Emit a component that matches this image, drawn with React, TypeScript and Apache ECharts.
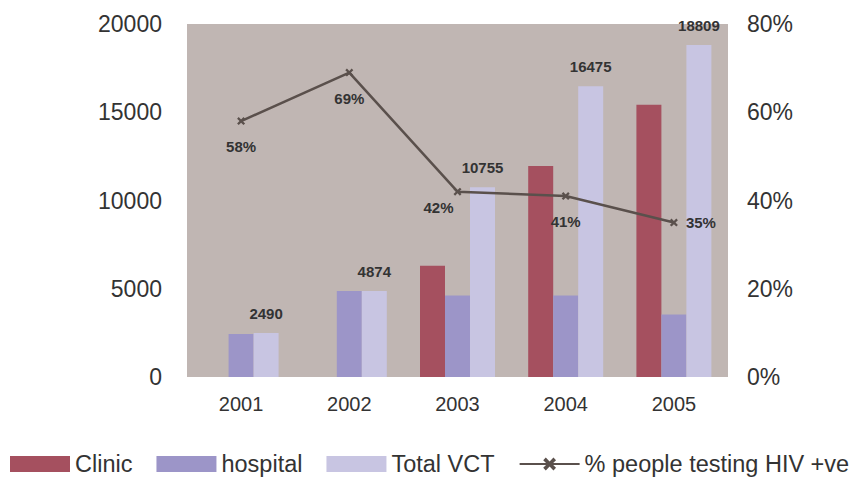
import React, { useEffect, useRef } from "react";
import * as echarts from "echarts";

const years = ["2001", "2002", "2003", "2004", "2005"];
const clinic = [0, 0, 6300, 11950, 15430];
const hospital = [2440, 4874, 4620, 4620, 3540];
const totalVCT = [2490, 4874, 10755, 16475, 18809];
const percentPositive = [58, 69, 42, 41, 35];
const lineLabelPos: any[] = ["bottom", "bottom", [-30, 12], "bottom", "right"];

const FONT = "Liberation Sans, Arial, sans-serif";

export default function App() {
  const ref = useRef<HTMLDivElement>(null);
  useEffect(() => {
    if (!ref.current) return;
    const chart = echarts.init(ref.current, undefined, { renderer: "svg" });
    const lblStyle = { fontFamily: FONT, fontWeight: "bold" as const, fontSize: 15, color: "#333" };
    chart.setOption({
      animation: false,
      textStyle: { fontFamily: FONT },
      grid: {
        left: 187,
        right: 130,
        top: 24,
        bottom: 101,
        show: true,
        backgroundColor: "#c0b6b3",
        borderWidth: 0,
      },
      legend: {
        top: 452,
        left: 10,
        width: 848,
        padding: 0,
        itemWidth: 60,
        itemHeight: 16,
        itemGap: 24,
        textStyle: { fontFamily: FONT, fontSize: 23.5, color: "#333" },
        data: [
          { name: "Clinic", icon: "rect" },
          { name: "hospital", icon: "rect" },
          { name: "Total VCT", icon: "rect" },
          { name: "% people testing HIV +ve" },
        ],
      },
      xAxis: {
        type: "category",
        data: years,
        axisLine: { show: false },
        axisTick: { show: false },
        axisLabel: { fontFamily: FONT, fontSize: 20, color: "#333", margin: 17 },
      },
      yAxis: [
        {
          type: "value",
          min: 0,
          max: 20000,
          interval: 5000,
          splitLine: { show: false },
          axisLine: { show: false },
          axisTick: { show: false },
          axisLabel: {
            fontFamily: FONT,
            fontSize: 23,
            color: "#333",
            margin: 25,
            formatter: (v: number) => String(v),
          },
        },
        {
          type: "value",
          min: 0,
          max: 80,
          interval: 20,
          position: "right",
          splitLine: { show: false },
          axisLine: { show: false },
          axisTick: { show: false },
          axisLabel: {
            fontFamily: FONT,
            fontSize: 23,
            color: "#333",
            margin: 19,
            formatter: "{value}%",
          },
        },
      ],
      series: [
        {
          name: "Clinic",
          type: "bar",
          data: clinic,
          barWidth: 25,
          barGap: "0%",
          itemStyle: { color: "#a5505f" },
        },
        {
          name: "hospital",
          type: "bar",
          data: hospital,
          barWidth: 25,
          barGap: "0%",
          itemStyle: { color: "#9c95c8" },
        },
        {
          name: "Total VCT",
          type: "bar",
          data: totalVCT,
          barWidth: 25,
          barGap: "0%",
          itemStyle: { color: "#c8c5e2" },
          label: { show: true, position: "top", distance: 12, ...lblStyle },
        },
        {
          name: "% people testing HIV +ve",
          type: "line",
          yAxisIndex: 1,
          data: percentPositive.map((v, i) => ({
            value: v,
            label: { position: lineLabelPos[i], distance: i === 4 ? 8 : 14 },
          })),
          symbol: "path://M0,2L2,0L5,3L8,0L10,2L7,5L10,8L8,10L5,7L2,10L0,8L3,5Z",
          symbolSize: 8,
          lineStyle: { color: "#5a504c", width: 2.5 },
          itemStyle: { color: "#5a504c" },
          label: {
            show: true,
            formatter: "{c}%",
            ...lblStyle,
          },
        },
      ],
    });
    return () => chart.dispose();
  }, []);
  return (
    <div
      ref={ref}
      style={{ position: "absolute", left: 0, top: 0, width: 858, height: 478 }}
    />
  );
}
